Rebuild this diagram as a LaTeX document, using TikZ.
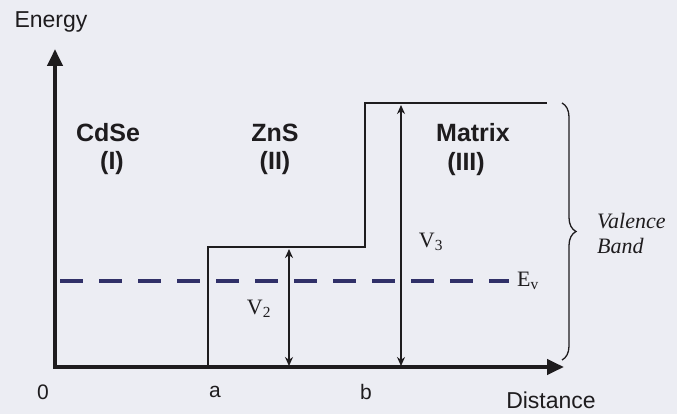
\documentclass[tikz,border=0pt]{standalone}
\usepackage{fontspec}
\setmainfont{Liberation Serif}
\setsansfont{Liberation Sans}
\usetikzlibrary{arrows.meta,decorations.pathreplacing}
\definecolor{bg}{RGB}{236,237,243}
\definecolor{ink}{RGB}{30,28,30}
\definecolor{evcol}{RGB}{48,48,104}
\begin{document}
\begin{tikzpicture}[x=1pt,y=-1pt,
  axisline/.style={draw=ink,line width=4pt,line join=miter,
    {Triangle[length=17pt,width=15pt]}-{Triangle[length=17pt,width=15pt]}},
  bandline/.style={draw=ink,line width=2.6pt,line join=miter},
  evline/.style={draw=evcol,line width=4.5pt,dash pattern=on 23pt off 16pt},
  gap/.style={draw=ink,line width=2.6pt,{Stealth[length=9pt,width=8pt]}-{Stealth[length=9pt,width=8pt]}},
  axlabel/.style={font=\sffamily\fontsize{23}{27}\selectfont,text=ink,inner sep=0pt},
  ticklabel/.style={font=\sffamily\fontsize{21}{25}\selectfont,text=ink,inner sep=0pt},
  region/.style={font=\sffamily\bfseries\fontsize{25}{30}\selectfont,text=ink,inner sep=0pt},
  serlabel/.style={font=\rmfamily\fontsize{22}{26}\selectfont,text=ink,inner sep=0pt},
  bandlabel/.style={font=\rmfamily\itshape\fontsize{22}{26}\selectfont,text=ink,inner sep=0pt,anchor=west}]
\useasboundingbox (0,0) rectangle (677,414);
\fill[bg] (0,0) rectangle (677,414);
% axes
\coordinate (ytop) at (55,49);
\coordinate (O) at (55,367);
\coordinate (xend) at (564,367);
\draw[axisline] (ytop) -- (O) -- (xend);
% band edge
\coordinate (p0) at (208,367);
\coordinate (p1) at (208,247);
\coordinate (p2) at (365,247);
\coordinate (p3) at (365,103);
\coordinate (p4) at (547,103);
\draw[bandline] (p0) -- (p1) -- (p2) -- (p3) -- (p4);
% Ev line
\coordinate (e0) at (60,281);
\coordinate (e1) at (509,281);
\draw[evline] (e0) -- (e1);
\node[serlabel,anchor=west] (ev) at (517,281) {E\textsubscript{v}};
% gaps
\coordinate (v2t) at (289,249);
\coordinate (v2b) at (289,366);
\draw[gap] (v2t) -- (v2b);
\coordinate (v3t) at (401,105);
\coordinate (v3b) at (401,366);
\draw[gap] (v3t) -- (v3b);
\node[serlabel] (v2) at (259,309) {V\textsubscript{2}};
\node[serlabel] (v3) at (431,242) {V\textsubscript{3}};
% brace
\coordinate (bt) at (562,103);
\coordinate (bb) at (562,360);
\draw[ink,line width=1.3pt,decorate,decoration={brace,amplitude=14pt}] (bt) -- (bb);
\node[bandlabel] (val) at (597,221) {Valence};
\node[bandlabel] (band) at (597,246) {Band};
% labels
\node[axlabel] (energy) at (51,22) {Energy};
\node[axlabel] (dist) at (551,400) {Distance};
\node[ticklabel] (t0) at (43,392) {0};
\node[ticklabel] (ta) at (215,392) {a};
\node[ticklabel] (tb) at (366,392) {b};
\node[region] (r1) at (108,133) {CdSe};
\node[region] (r1n) at (112,163) {(I)};
\node[region] (r2) at (275,133) {ZnS};
\node[region] (r2n) at (275,163) {(II)};
\node[region] (r3) at (473,133) {Matrix};
\node[region] (r3n) at (466,164) {(III)};
\end{tikzpicture}
\end{document}
